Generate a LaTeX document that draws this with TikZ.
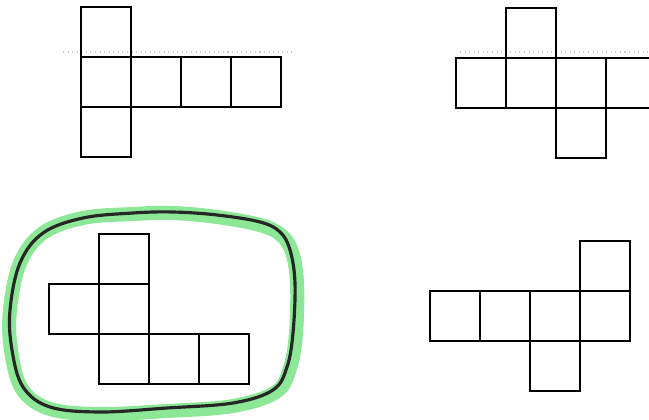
\documentclass[tikz,border=0pt]{standalone}
\usepackage{amsmath, amssymb, tikz}

\definecolor{marker}{RGB}{140,232,150}

\begin{document}
\begin{tikzpicture}[face/.style={draw=black, line width=1.4pt},
  fold/.style={gray!40, dotted, line width=0.6pt}]
  \clip (0,0) rectangle (12.98,8.4);

  % faint fold marks from the scan
  \draw[fold] (1.26,7.36) -- (5.84,7.36);
  \draw[fold] (9.2,7.36) -- (12.98,7.36);

  % net 1: column of three with a row to the right
  \begin{scope}[shift={(1.62,5.26)}]
    \foreach \x/\y in {0/0, 0/1, 0/2, 1/1, 2/1, 3/1}
      \draw[face] (\x,\y) rectangle ++(1,1);
  \end{scope}

  % net 2: row of four, one up and one down
  \begin{scope}[shift={(9.12,6.24)}]
    \foreach \x/\y in {0/0, 1/0, 2/0, 3/0, 1/1, 2/-1}
      \draw[face] (\x,\y) rectangle ++(1,1);
  \end{scope}

  % net 3 -- the circled one
  \draw[marker, line width=8pt, line join=round]
    plot[smooth cycle, tension=0.6] coordinates {
      (0.2,2.2) (0.4,3.14) (0.86,3.74) (1.66,4.04) (2.66,4.12) (3.46,4.14)
      (4.34,4.06) (5.2,3.9) (5.62,3.7) (5.84,3.36) (5.94,2.74) (5.92,1.74)
      (5.8,1.04) (5.52,0.56) (4.66,0.28) (3.34,0.18) (2.0,0.12) (1.0,0.22)
      (0.44,0.62) (0.22,1.4)};
  \draw[black!85, line width=1.8pt]
    plot[smooth cycle, tension=0.6] coordinates {
      (0.2,2.2) (0.4,3.14) (0.86,3.74) (1.66,4.04) (2.66,4.14) (3.46,4.16)
      (4.34,4.1) (5.2,3.96) (5.6,3.76) (5.8,3.4) (5.9,2.74) (5.86,1.74)
      (5.74,1.06) (5.46,0.6) (4.66,0.34) (3.34,0.24) (2.0,0.16) (1.0,0.26)
      (0.46,0.66) (0.24,1.4)};
  \begin{scope}[shift={(0.98,0.72)}]
    \foreach \x/\y in {1/0, 2/0, 3/0, 0/1, 1/1, 1/2}
      \draw[face] (\x,\y) rectangle ++(1,1);
  \end{scope}

  % net 4: row of four, one up at the end and one down
  \begin{scope}[shift={(8.6,1.58)}]
    \foreach \x/\y in {0/0, 1/0, 2/0, 3/0, 3/1, 2/-1}
      \draw[face] (\x,\y) rectangle ++(1,1);
  \end{scope}
\end{tikzpicture}
\end{document}
